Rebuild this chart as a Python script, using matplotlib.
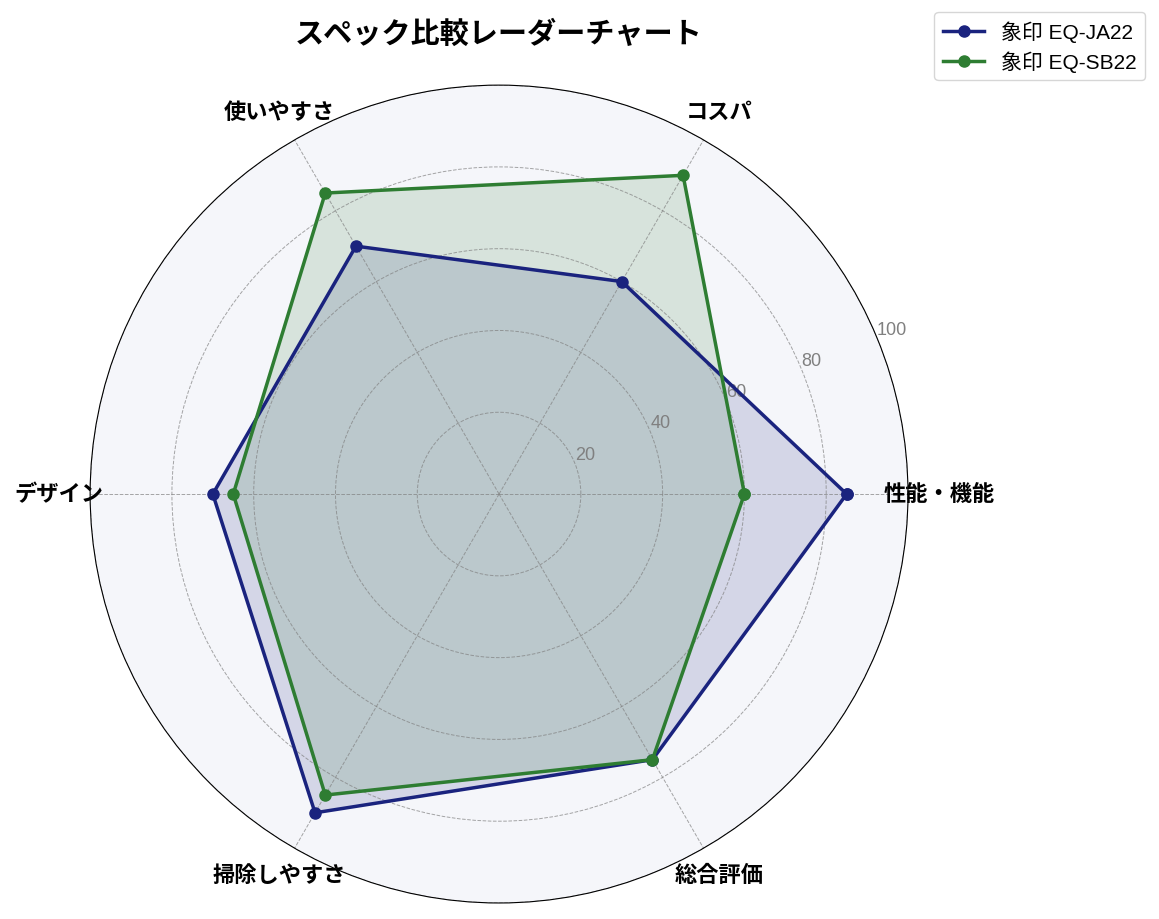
import numpy as np
import matplotlib.pyplot as plt

plt.rcParams['font.family'] = ['Liberation Sans', 'Noto Sans CJK JP', 'DejaVu Sans']

# データ
categories = ['性能・機能', 'コスパ', '使いやすさ', 'デザイン', '掃除しやすさ', '総合評価']
ja22_scores = [85, 60, 70, 70, 90, 75]
sb22_scores = [60, 90, 85, 65, 85, 75]
series_names = ['象印 EQ-JA22', '象印 EQ-SB22']
series_colors = ['#1a237e', '#2e7d32']
r_ticks = [20, 40, 60, 80, 100]

n = len(categories)
angles = np.linspace(0, 2 * np.pi, n, endpoint=False).tolist()
angles += angles[:1]

fig = plt.figure(figsize=(11.59, 9.2), dpi=100)
ax = fig.add_axes([0.0777, 0.0174, 0.7058, 0.889], polar=True)
ax.set_facecolor('#f5f6fa')

for name, vals, col in zip(series_names, [ja22_scores, sb22_scores], series_colors):
    v = vals + vals[:1]
    ax.plot(angles, v, color=col, linewidth=2.5, marker='o', markersize=8, label=name)
    ax.fill(angles, v, color=col, alpha=0.15)

ax.set_xticks(angles[:-1])
ax.set_xticklabels(categories, fontsize=16, fontweight='bold')
ax.tick_params(axis='x', pad=12)
ax.set_ylim(0, 100)
ax.set_yticks(r_ticks)
ax.set_yticklabels([str(t) for t in r_ticks], fontsize=13, color='gray')
ax.grid(True, color='gray', linestyle='--', linewidth=0.7, alpha=0.7)
ax.spines['polar'].set_color('black')

fig.text(0.43, 0.962, 'スペック比較レーダーチャート', fontsize=21, fontweight='bold',
         ha='center', va='center')
ax.legend(loc='upper right', bbox_to_anchor=(0.997, 0.997), bbox_transform=fig.transFigure,
          fontsize=15, handlelength=2.0, labelspacing=0.4)

fig.savefig('out.png', dpi=100)
